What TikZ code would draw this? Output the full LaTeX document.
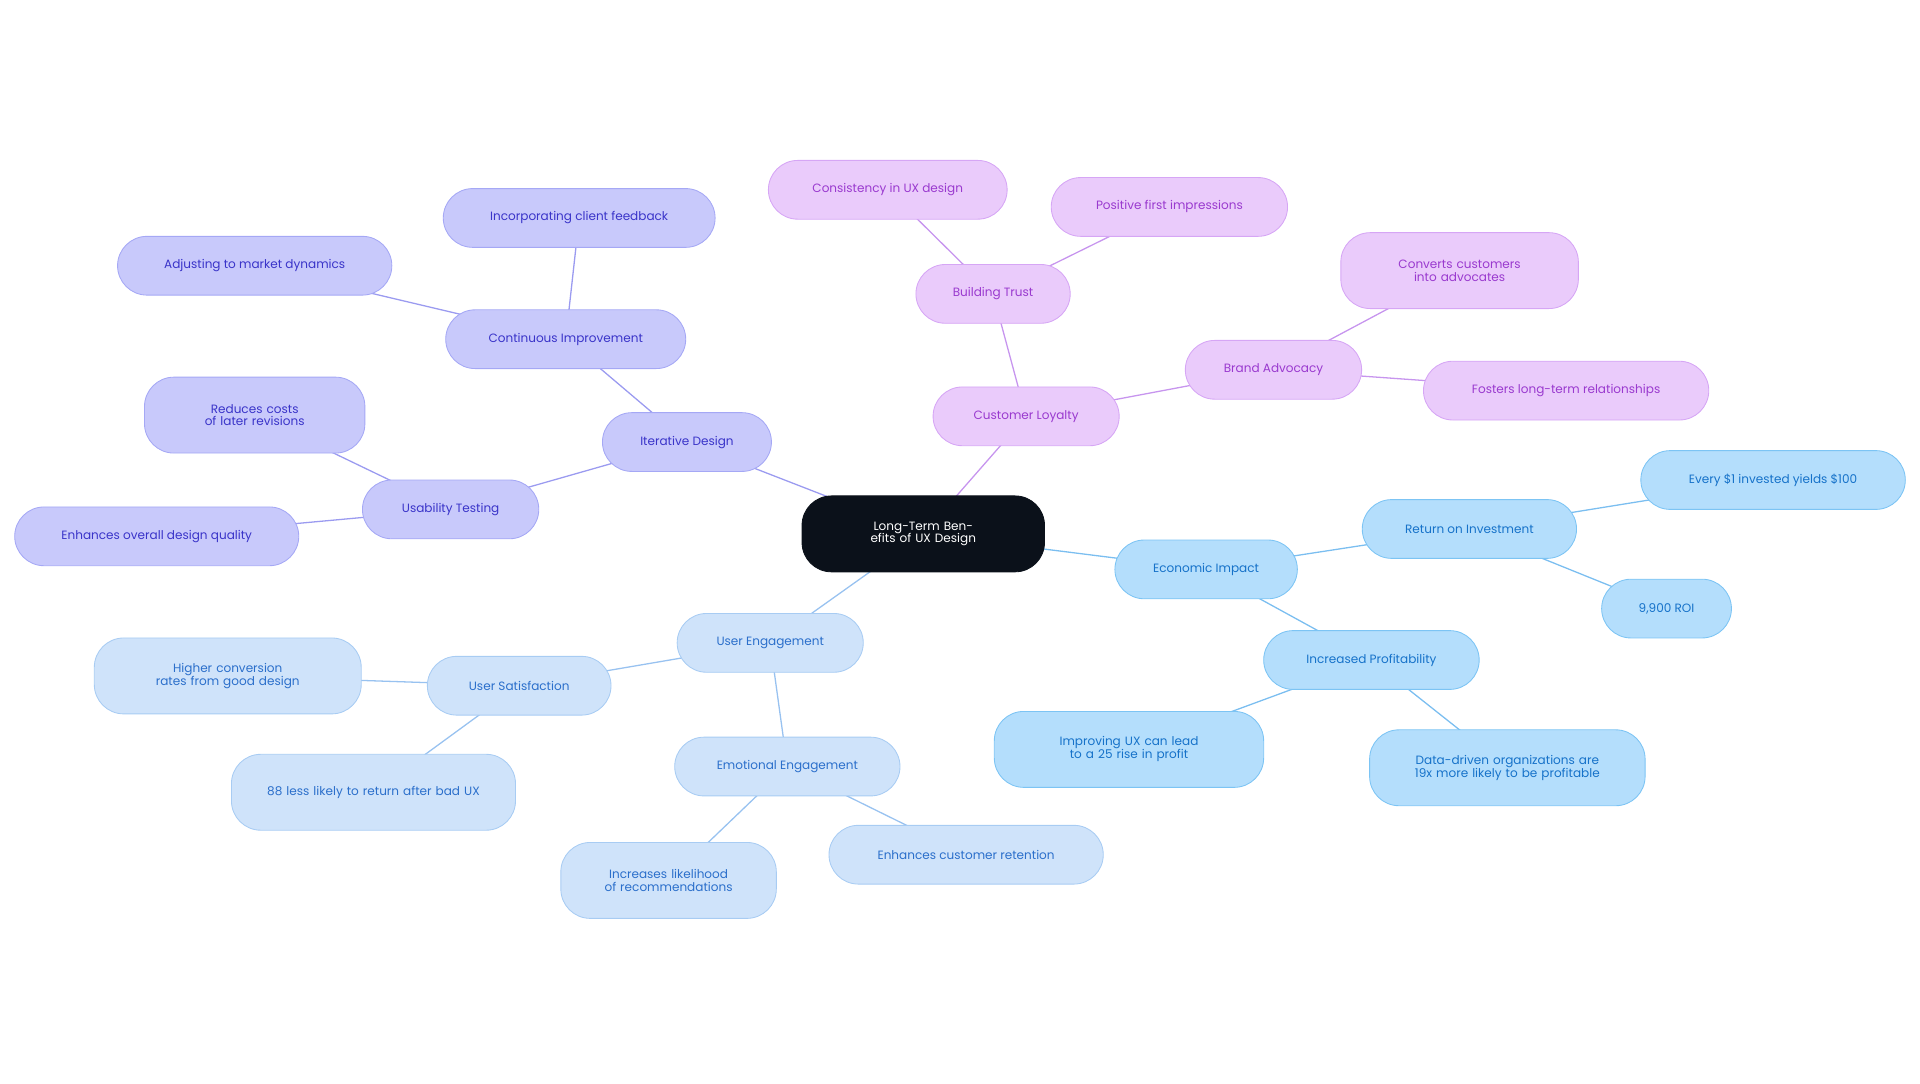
\documentclass[tikz,border=0pt]{standalone}
\usepackage{fontspec}
\setmainfont{Poppins}
\usepackage{tikz}
\definecolor{rootfill}{HTML}{0B111A}
\definecolor{vfill}{HTML}{C8C9FB}\definecolor{vdraw}{HTML}{A5A8F5}\definecolor{vtext}{HTML}{3A34C9}\definecolor{vline}{HTML}{9B9BF0}
\definecolor{pfill}{HTML}{EACBFB}\definecolor{pdraw}{HTML}{D6A6F5}\definecolor{ptext}{HTML}{9A3ACF}\definecolor{pline}{HTML}{C795EE}
\definecolor{bfill}{HTML}{B4DEFC}\definecolor{bdraw}{HTML}{7CC4F4}\definecolor{btext}{HTML}{1672C9}\definecolor{bline}{HTML}{7BBEF0}
\definecolor{lfill}{HTML}{CFE3FA}\definecolor{ldraw}{HTML}{A8CCF3}\definecolor{ltext}{HTML}{2B6FCB}\definecolor{lline}{HTML}{98C2F0}
\tikzset{
  box/.style={rounded corners=1.2cm, minimum height=2.4cm, align=center, inner sep=0pt, line width=1pt,
    font=\fontsize{14}{15}\selectfont},
  tall/.style={minimum height=3.1cm},
  rootbox/.style={box, fill=rootfill, draw=rootfill, text=white, minimum height=3.1cm},
  violet/.style={box, fill=vfill, draw=vdraw, text=vtext},
  pink/.style={box, fill=pfill, draw=pdraw, text=ptext},
  blue/.style={box, fill=bfill, draw=bdraw, text=btext},
  light/.style={box, fill=lfill, draw=ldraw, text=ltext},
}
\begin{document}
\begin{tikzpicture}[x=0.05cm, y=-0.05cm]
        \useasboundingbox (0,0) rectangle (1568,885);

        % links
        \draw [vline, line width=1.5pt] (561,361) -- (754,436)
          (561,361) -- (462,277) -- (473,178)
          (462,277) -- (208,217)
          (561,361) -- (368,416) -- (208,339)
          (368,416) -- (128,438);
        \draw [pline, line width=1.5pt] (838,340) -- (754,436)
          (838,340) -- (811,240) -- (725,155)
          (811,240) -- (955,169)
          (838,340) -- (1040,302) -- (1192,221)
          (1040,302) -- (1279,319);
        \draw [bline, line width=1.5pt] (985,465) -- (754,436)
          (985,465) -- (1200,432) -- (1448,392)
          (1200,432) -- (1361,497)
          (985,465) -- (1120,539) -- (922,612)
          (1120,539) -- (1231,627);
        \draw [lline, line width=1.5pt] (629,525) -- (754,436)
          (629,525) -- (424,560) -- (186,552)
          (424,560) -- (305,647)
          (629,525) -- (643,626) -- (546,719)
          (643,626) -- (789,698);

        % root
        \node [rootbox, minimum width=9.9cm, text width=8cm] (root) at (754,436) {Long-Term Benefits of UX Design};

        % iterative design
        \node [violet, minimum width=6.9cm] (iter) at (561,361) {Iterative Design};
        \node [violet, minimum width=9.8cm] (cont) at (462,277) {Continuous Improvement};
        \node [violet, minimum width=11.1cm] (feed) at (473,178) {Incorporating client feedback};
        \node [violet, minimum width=11.2cm] (market) at (208,217) {Adjusting to market dynamics};
        \node [violet, minimum width=7.2cm] (usab) at (368,416) {Usability Testing};
        \node [violet, tall, minimum width=9cm, text width=7.8cm] (costs) at (208,339) {Reduces costs of later revisions};
        \node [violet, minimum width=11.6cm] (quality) at (128,438) {Enhances overall design quality};

        % customer loyalty
        \node [pink, minimum width=7.6cm] (loyal) at (838,340) {Customer Loyalty};
        \node [pink, minimum width=6.3cm] (trust) at (811,240) {Building Trust};
        \node [pink, minimum width=9.75cm] (consist) at (725,155) {Consistency in UX design};
        \node [pink, minimum width=9.65cm] (first) at (955,169) {Positive first impressions};
        \node [pink, minimum width=7.2cm] (advoc) at (1040,302) {Brand Advocacy};
        \node [pink, tall, minimum width=9.7cm, text width=8.6cm] (convert) at (1192,221) {Converts customers into advocates};
        \node [pink, minimum width=11.65cm] (foster) at (1279,319) {Fosters long-term relationships};

        % economic impact
        \node [blue, minimum width=7.45cm] (econ) at (985,465) {Economic Impact};
        \node [blue, minimum width=8.75cm] (roi) at (1200,432) {Return on Investment};
        \node [blue, minimum width=10.8cm] (every) at (1448,392) {Every \$1 invested yields \$100};
        \node [blue, minimum width=5.3cm] (nine) at (1361,497) {9,900 ROI};
        \node [blue, minimum width=8.8cm] (profit) at (1120,539) {Increased Profitability};
        \node [blue, tall, minimum width=11cm, text width=9.6cm] (improve) at (922,612) {Improving UX can lead to a 25 rise in profit};
        \node [blue, tall, minimum width=11.25cm, text width=10.2cm] (data) at (1231,627) {Data-driven organizations are 19x more likely to be profitable};

        % user engagement
        \node [light, minimum width=7.6cm] (engage) at (629,525) {User Engagement};
        \node [light, minimum width=7.5cm] (satis) at (424,560) {User Satisfaction};
        \node [light, tall, minimum width=10.9cm, text width=9.6cm] (conv) at (186,552) {Higher conversion rates from good design};
        \node [light, tall, minimum width=11.6cm, text width=10.2cm] (less) at (305,647) {88 less likely to return after bad UX};
        \node [light, minimum width=9.2cm] (emot) at (643,626) {Emotional Engagement};
        \node [light, tall, minimum width=8.8cm, text width=7.6cm] (recom) at (546,719) {Increases likelihood of recommendations};
        \node [light, minimum width=11.2cm] (retain) at (789,698) {Enhances customer retention};

      \end{tikzpicture}
\end{document}
